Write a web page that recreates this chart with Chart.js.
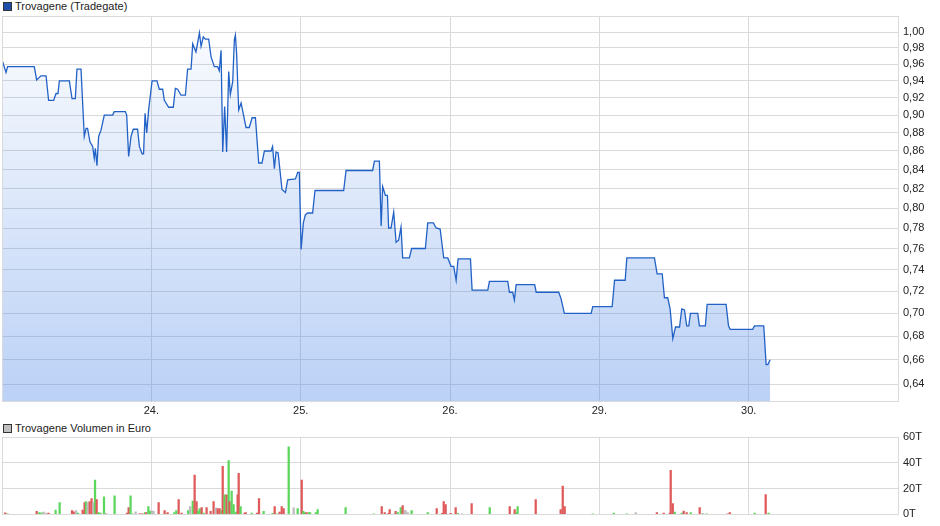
<!DOCTYPE html>
<html>
<head>
<meta charset="utf-8">
<script src="https://cdn.jsdelivr.net/npm/chart.js@4"></script>
<style>
  body { margin: 0; background: #fff; font-family: "Liberation Sans", Arial, sans-serif; }
  #wrap { position: relative; width: 940px; height: 526px; overflow: hidden; }
  .sq { position: absolute; left: 3px; width: 9px; height: 9px; box-sizing: border-box; border: 1px solid #333; }
  .lbl { position: absolute; left: 15px; font-size: 11px; line-height: 12px; color: #222; white-space: nowrap; }
  canvas { position: absolute; left: 0; }
</style>
</head>
<body>
<div id="wrap">
  <div class="sq" style="top:2px;background:#1f4fa8"></div>
  <div class="lbl" style="top:0">Trovagene (Tradegate)</div>
  <canvas id="price" width="940" height="418" style="top:0"></canvas>
  <div class="sq" style="top:424px;background:#c0c0c0"></div>
  <div class="lbl" style="top:422px">Trovagene Volumen in Euro</div>
  <canvas id="volume" width="940" height="106" style="top:420px"></canvas>
</div>
<script>
// x axis is measured in trading days, 0 = start of the 23rd
const dayLabels = ['23.', '24.', '25.', '26.', '29.', '30.'];
const dayTicks = [1, 2, 3, 4, 5];
const priceTicks = [0.64, 0.66, 0.68, 0.70, 0.72, 0.74, 0.76, 0.78, 0.80, 0.82,
                    0.84, 0.86, 0.88, 0.90, 0.92, 0.94, 0.96, 0.98, 1.00];
const volTicks = [0, 20, 40, 60];

const priceTimes = [
  0.004, 0.027, 0.038, 0.216, 0.232, 0.261, 0.295, 0.312, 0.346, 0.362,
  0.375, 0.384, 0.451, 0.469, 0.491, 0.502, 0.529, 0.551, 0.563, 0.573,
  0.589, 0.607, 0.618, 0.625, 0.636, 0.647, 0.663, 0.685, 0.741, 0.752,
  0.826, 0.835, 0.848, 0.864, 0.879, 0.908, 0.920, 0.938, 0.948, 0.958,
  0.969, 0.982, 1.005, 1.038, 1.053, 1.076, 1.087, 1.116, 1.147, 1.161,
  1.176, 1.199, 1.228, 1.243, 1.266, 1.277, 1.299, 1.322, 1.333, 1.348,
  1.362, 1.384, 1.400, 1.422, 1.444, 1.455, 1.467, 1.478, 1.491, 1.504,
  1.518, 1.529, 1.545, 1.556, 1.563, 1.571, 1.585, 1.601, 1.634, 1.656,
  1.675, 1.697, 1.719, 1.741, 1.757, 1.802, 1.812, 1.824, 1.835, 1.849,
  1.875, 1.898, 1.913, 1.965, 1.980, 1.991, 2.003, 2.018, 2.031, 2.047,
  2.080, 2.096, 2.288, 2.304, 2.482, 2.494, 2.527, 2.539, 2.549, 2.567,
  2.581, 2.589, 2.605, 2.623, 2.639, 2.656, 2.672, 2.683, 2.728, 2.743,
  2.835, 2.851, 2.889, 2.907, 2.934, 2.958, 2.985, 3.007, 3.025, 3.041,
  3.054, 3.137, 3.148, 3.253, 3.264, 3.387, 3.398, 3.420, 3.431, 3.443,
  3.567, 3.577, 3.728, 3.744, 3.766, 3.945, 3.956, 4.086, 4.102, 4.173,
  4.184, 4.369, 4.387, 4.421, 4.436, 4.458, 4.474, 4.492, 4.510, 4.537,
  4.552, 4.570, 4.585, 4.599, 4.610, 4.659, 4.670, 4.710, 4.722, 4.849,
  4.865, 4.876, 5.027, 5.039, 5.101, 5.117, 5.128, 5.144
];
const prices = [
  0.963, 0.950, 0.957, 0.957, 0.941, 0.946, 0.946, 0.917, 0.917, 0.925,
  0.925, 0.940, 0.940, 0.919, 0.919, 0.954, 0.954, 0.876, 0.885, 0.885,
  0.870, 0.865, 0.852, 0.863, 0.844, 0.876, 0.883, 0.900, 0.900, 0.904,
  0.904, 0.900, 0.854, 0.876, 0.884, 0.884, 0.865, 0.857, 0.857, 0.902,
  0.880, 0.906, 0.940, 0.940, 0.930, 0.930, 0.917, 0.909, 0.909, 0.931,
  0.930, 0.923, 0.923, 0.954, 0.954, 0.985, 0.975, 0.999, 0.982, 0.994,
  0.991, 0.991, 0.969, 0.957, 0.957, 0.952, 0.977, 0.859, 0.910, 0.859,
  0.951, 0.924, 0.939, 0.990, 0.996, 0.973, 0.906, 0.914, 0.886, 0.886,
  0.897, 0.897, 0.847, 0.847, 0.860, 0.860, 0.865, 0.841, 0.859, 0.858,
  0.819, 0.816, 0.829, 0.830, 0.837, 0.837, 0.759, 0.785, 0.793, 0.795,
  0.795, 0.818, 0.818, 0.839, 0.839, 0.849, 0.849, 0.782, 0.822, 0.813,
  0.813, 0.780, 0.780, 0.796, 0.766, 0.768, 0.781, 0.751, 0.751, 0.760,
  0.760, 0.785, 0.785, 0.780, 0.779, 0.751, 0.751, 0.743, 0.743, 0.730,
  0.750, 0.750, 0.721, 0.721, 0.729, 0.729, 0.719, 0.719, 0.712, 0.726,
  0.726, 0.719, 0.719, 0.713, 0.700, 0.700, 0.706, 0.706, 0.730, 0.730,
  0.751, 0.751, 0.736, 0.736, 0.714, 0.714, 0.704, 0.678, 0.688, 0.688,
  0.704, 0.703, 0.689, 0.689, 0.700, 0.700, 0.689, 0.689, 0.708, 0.708,
  0.689, 0.686, 0.686, 0.689, 0.689, 0.656, 0.656, 0.660
];

// volume in thousand euro; direction: 1 up, -1 down, 0 unchanged
const volTimes = [
  0.022, 0.038, 0.232, 0.250, 0.265, 0.279, 0.297, 0.312, 0.359, 0.386,
  0.469, 0.480, 0.496, 0.509, 0.540, 0.553, 0.563, 0.573, 0.587, 0.600,
  0.612, 0.623, 0.634, 0.647, 0.660, 0.683, 0.697, 0.754, 0.837, 0.848,
  0.861, 0.875, 0.895, 0.920, 0.931, 0.942, 0.958, 0.966, 0.980, 0.991,
  1.005, 1.015, 1.049, 1.089, 1.109, 1.154, 1.167, 1.183, 1.203, 1.246,
  1.259, 1.277, 1.290, 1.303, 1.313, 1.324, 1.337, 1.350, 1.370, 1.397,
  1.417, 1.431, 1.444, 1.457, 1.471, 1.478, 1.491, 1.504, 1.518, 1.524,
  1.538, 1.551, 1.565, 1.578, 1.585, 1.598, 1.625, 1.632, 1.672, 1.708,
  1.721, 1.752, 1.812, 1.826, 1.839, 1.859, 1.873, 1.886, 1.920, 1.953,
  1.980, 2.007, 2.018, 2.029, 2.040, 2.056, 2.063, 2.102, 2.114, 2.301,
  2.489, 2.543, 2.563, 2.589, 2.596, 2.626, 2.636, 2.650, 2.670, 2.683,
  2.697, 2.703, 2.717, 2.743, 2.851, 2.911, 2.947, 2.958, 2.971, 3.005,
  3.038, 3.052, 3.081, 3.145, 3.266, 3.400, 3.433, 3.447, 3.453, 3.574,
  3.741, 3.755, 3.768, 3.956, 4.097, 4.184, 4.244, 4.385, 4.431, 4.472,
  4.478, 4.492, 4.505, 4.552, 4.565, 4.585, 4.612, 4.672, 4.692, 4.719,
  4.860, 4.874, 5.040, 5.114, 5.134
];
const volumes = [
  1.3, 0.5, 2.3, 1.5, 1.3, 1.8, 1.0, 1.0, 3.3, 9.1,
  3.0, 2.0, 3.0, 1.0, 3.3, 9.1, 9.9, 8.9, 9.9, 12.2,
  9.1, 26.6, 11.4, 1.5, 1.0, 13.7, 0.8, 14.4, 1.0, 5.3,
  14.4, 0.3, 2.0, 0.3, 0.3, 0.5, 1.5, 1.5, 6.1, 2.5,
  2.8, 2.3, 9.1, 3.0, 1.5, 1.5, 3.0, 11.4, 1.0, 3.0,
  6.1, 10.4, 30.4, 9.9, 2.5, 4.6, 5.3, 1.0, 5.3, 2.3,
  9.9, 5.1, 4.6, 4.6, 3.0, 37.2, 15.2, 15.2, 41.8, 9.9,
  18.0, 7.6, 1.8, 15.2, 31.9, 6.1, 1.0, 1.5, 1.0, 1.0,
  12.2, 2.3, 0.8, 6.1, 0.3, 1.8, 6.1, 4.6, 52.4, 5.1,
  4.6, 26.6, 2.3, 1.5, 1.5, 1.5, 1.5, 1.5, 3.8, 5.3,
  0.3, 6.1, 1.5, 0.8, 3.8, 0.3, 2.3, 1.5, 5.3, 6.8,
  3.0, 3.0, 1.5, 3.0, 1.5, 4.6, 0.8, 9.9, 7.6, 0.8,
  5.3, 0.8, 0.2, 8.4, 5.3, 6.1, 3.8, 1.5, 6.1, 11.4,
  3.8, 22.0, 6.1, 0.3, 1.0, 0.3, 1.5, 1.5, 1.0, 1.0,
  34.2, 8.4, 1.8, 1.0, 2.5, 1.5, 1.5, 5.3, 0.8, 0.3,
  0.3, 1.5, 1.0, 15.4, 1.0
];
const volDirs = [
  -1, 1, -1, 1, 1, 0, 0, -1, 1, 1,
  -1, -1, 0, 1, -1, -1, 1, 0, -1, -1,
  0, 1, -1, 1, 1, 1, 0, 1, -1, -1,
  1, 1, 0, -1, -1, -1, 1, -1, 1, 1,
  0, 0, -1, -1, -1, 1, 1, -1, -1, 1,
  0, 1, -1, -1, 1, 1, -1, 1, -1, -1,
  -1, 0, -1, -1, 1, -1, 1, -1, 1, -1,
  1, 1, 1, -1, -1, 1, -1, -1, 1, -1,
  -1, 1, 1, -1, 1, -1, -1, -1, 1, 0,
  1, -1, 1, 1, -1, 1, 1, 1, 1, 1,
  1, -1, -1, -1, -1, 0, -1, 1, 1, -1,
  0, 0, 0, 1, 1, -1, -1, -1, -1, -1,
  -1, 1, 0, -1, 1, -1, -1, 1, 1, -1,
  -1, -1, -1, 1, 1, 1, 0, -1, -1, -1,
  -1, -1, 1, 1, -1, -1, 1, -1, 0, 1,
  -1, -1, 1, -1, 1
];

Chart.defaults.font.family = '"Liberation Sans", Arial, sans-serif';
Chart.defaults.font.size = 11;
Chart.defaults.color = '#222';

const gridColor = '#dadada';

// light frame round the plot area
const frame = {
  id: 'frame',
  afterDatasetsDraw(chart) {
    const { ctx, chartArea: a } = chart;
    ctx.save();
    ctx.strokeStyle = gridColor;
    ctx.lineWidth = 1;
    ctx.strokeRect(Math.round(a.left) + 0.5, Math.round(a.top) + 0.5,
                   Math.round(a.right - a.left), Math.round(a.bottom - a.top));
    ctx.restore();
  }
};

function areaFill(ctx) {
  const a = ctx.chart.chartArea;
  if (!a) return 'rgba(70,130,230,0.2)';
  const g = ctx.chart.ctx.createLinearGradient(0, a.top, 0, a.bottom);
  g.addColorStop(0, 'rgba(70,130,230,0.02)');
  g.addColorStop(1, 'rgba(70,130,230,0.37)');
  return g;
}

function dayAxis(height, showLabels) {
  return {
    type: 'linear',
    min: 0,
    max: 6,
    offset: false,
    afterBuildTicks: s => { s.ticks = dayTicks.map(v => ({ value: v })); },
    afterFit: s => { s.height = height; },
    ticks: { display: showLabels, callback: v => dayLabels[v], padding: 3, maxRotation: 0, autoSkip: false },
    grid: { color: gridColor, drawTicks: false, offset: false },
    border: { display: false }
  };
}

new Chart(document.getElementById('price'), {
  type: 'line',
  data: {
    datasets: [{
      label: 'Trovagene (Tradegate)',
      data: priceTimes.map((t, i) => ({ x: t, y: prices[i] })),
      borderColor: '#2262c6',
      borderWidth: 1.3,
      pointRadius: 0,
      tension: 0,
      fill: 'start',
      backgroundColor: areaFill
    }]
  },
  options: {
    responsive: false,
    animation: false,
    layout: { padding: { left: 2, top: 16, right: 0, bottom: 0 } },
    plugins: { legend: { display: false }, tooltip: { enabled: false } },
    scales: {
      x: dayAxis(17, true),
      y: {
        type: 'logarithmic',
        position: 'right',
        min: 0.6264,
        max: 1.0205,
        bounds: 'data',
        afterBuildTicks: s => { s.ticks = priceTicks.map(v => ({ value: v })); },
        afterFit: s => { s.width = 42; },
        ticks: { callback: v => v.toFixed(2).replace('.', ','), padding: 5, autoSkip: false },
        grid: { color: gridColor, drawTicks: false },
        border: { display: false }
      }
    }
  },
  plugins: [frame]
});

const dirColors = { '1': '#5cd65c', '-1': '#df5a5a', '0': '#bdbdbd' };

new Chart(document.getElementById('volume'), {
  type: 'bar',
  data: {
    datasets: [{
      label: 'Trovagene Volumen in Euro',
      data: volTimes.map((t, i) => ({ x: t, y: volumes[i] })),
      backgroundColor: volDirs.map(d => dirColors[d]),
      barThickness: 1.6,
      borderWidth: 0
    }]
  },
  options: {
    responsive: false,
    animation: false,
    layout: { padding: { left: 2, top: 17, right: 0, bottom: 10 } },
    plugins: { legend: { display: false }, tooltip: { enabled: false } },
    scales: {
      x: dayAxis(0, false),
      y: {
        position: 'right',
        min: 0,
        max: 60,
        afterBuildTicks: s => { s.ticks = volTicks.map(v => ({ value: v })); },
        afterFit: s => { s.width = 42; },
        ticks: { callback: v => v + 'T', padding: 5, autoSkip: false },
        grid: { color: gridColor, drawTicks: false },
        border: { display: false }
      }
    }
  },
  plugins: [frame]
});
</script>
</body>
</html>
